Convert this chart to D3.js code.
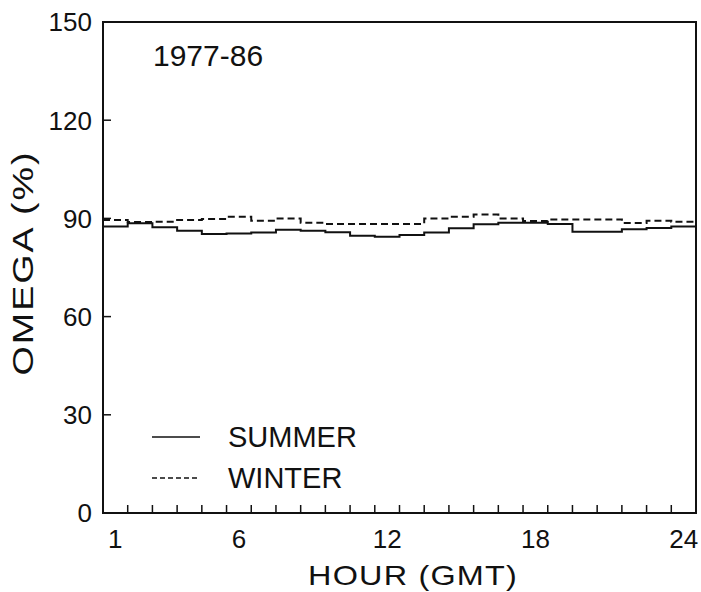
<!DOCTYPE html>
<html>
<head>
<meta charset="utf-8">
<script src="https://cdn.jsdelivr.net/npm/d3@7"></script>
<style>
  body { margin: 0; background: #fff; }
  text { font-family: "Liberation Sans", Arial, sans-serif; fill: #111; }
</style>
</head>
<body>
<div id="chart"></div>
<script>
// hourly means, 1977-86
var hours = d3.range(1, 25);
var summer = [87.5, 88.5, 87.3, 86.2, 85.2, 85.4, 85.7, 86.5, 86.2, 85.8, 84.7, 84.4,
              84.9, 85.7, 87.0, 88.2, 88.7, 88.7, 88.3, 85.9, 85.9, 86.7, 87.1, 87.5];
var winter = [89.5, 88.9, 89.0, 89.5, 89.8, 90.5, 89.3, 90.0, 88.7, 88.3, 88.3, 88.3,
              88.3, 90.0, 90.5, 91.2, 90.0, 89.2, 89.7, 89.7, 89.7, 88.6, 89.3, 89.0];
var xTickLabels = [1, 6, 12, 18, 24];
var yTickLabels = [0, 30, 60, 90, 120, 150];

var W = 701, H = 592;
var margin = {left: 103, right: 5, top: 22, bottom: 79};

var svg = d3.select("#chart").append("svg").attr("width", W).attr("height", H);

var x = d3.scaleLinear().domain([0.5, 24.5]).range([margin.left, W - margin.right]);
var y = d3.scaleLinear().domain([0, 150]).range([H - margin.bottom, margin.top]);

// frame
svg.append("rect")
  .attr("x", x(0.5)).attr("y", y(150))
  .attr("width", x(24.5) - x(0.5)).attr("height", y(0) - y(150))
  .attr("fill", "none").attr("stroke", "#111").attr("stroke-width", 2);

// x ticks at hour boundaries, pointing inward
svg.append("g").selectAll("line")
  .data(d3.range(1.5, 24, 1))
  .join("line")
  .attr("x1", function(d){ return x(d); }).attr("x2", function(d){ return x(d); })
  .attr("y1", y(0)).attr("y2", y(0) - 8)
  .attr("stroke", "#111").attr("stroke-width", 1.5);

svg.append("g").selectAll("text")
  .data(xTickLabels)
  .join("text")
  .attr("x", function(d){ return x(d); })
  .attr("y", y(0) + 35)
  .attr("text-anchor", "middle")
  .attr("font-size", 26)
  .text(function(d){ return d; });

// y ticks
svg.append("g").selectAll("line")
  .data(yTickLabels.slice(1, -1))
  .join("line")
  .attr("x1", x(0.5)).attr("x2", x(0.5) + 8)
  .attr("y1", function(d){ return y(d); }).attr("y2", function(d){ return y(d); })
  .attr("stroke", "#111").attr("stroke-width", 1.5);

svg.append("g").selectAll("text")
  .data(yTickLabels)
  .join("text")
  .attr("x", x(0.5) - 11)
  .attr("y", function(d){ return y(d); })
  .attr("dy", "0.36em")
  .attr("text-anchor", "end")
  .attr("font-size", 26)
  .text(function(d){ return d; });

// axis titles (wide lettering, stretched along the text)
svg.append("text")
  .attr("transform", "translate(413,585) scale(1.2,1)")
  .attr("text-anchor", "middle")
  .attr("font-size", 27)
  .attr("letter-spacing", 1)
  .text("HOUR (GMT)");

svg.append("text")
  .attr("transform", "translate(33,263) rotate(-90) scale(1.3,1)")
  .attr("text-anchor", "middle")
  .attr("font-size", 29)
  .attr("letter-spacing", 1.5)
  .text("OMEGA (%)");

svg.append("text")
  .attr("x", 153).attr("y", 66)
  .attr("font-size", 30)
  .text("1977-86");

// step lines
function steps(vals) {
  var pts = hours.map(function(h, i){ return [h - 0.5, vals[i]]; });
  pts.push([24.5, vals[vals.length - 1]]);
  return pts;
}
var line = d3.line()
  .x(function(d){ return x(d[0]); })
  .y(function(d){ return y(d[1]); })
  .curve(d3.curveStepAfter);

svg.append("path")
  .attr("d", line(steps(summer)))
  .attr("fill", "none").attr("stroke", "#111").attr("stroke-width", 2);

svg.append("path")
  .attr("d", line(steps(winter)))
  .attr("fill", "none").attr("stroke", "#111").attr("stroke-width", 2)
  .attr("stroke-dasharray", "7,4");

// legend
var legend = [{name: "SUMMER", dash: null, yy: 437}, {name: "WINTER", dash: "5,3", yy: 478}];
legend.forEach(function(l){
  svg.append("line")
    .attr("x1", 152).attr("x2", 200)
    .attr("y1", l.yy).attr("y2", l.yy)
    .attr("stroke", "#111").attr("stroke-width", 1.6)
    .attr("stroke-dasharray", l.dash);
  svg.append("text")
    .attr("x", 228).attr("y", l.yy)
    .attr("dy", "0.36em")
    .attr("font-size", 29)
    .text(l.name);
});
</script>
</body>
</html>
